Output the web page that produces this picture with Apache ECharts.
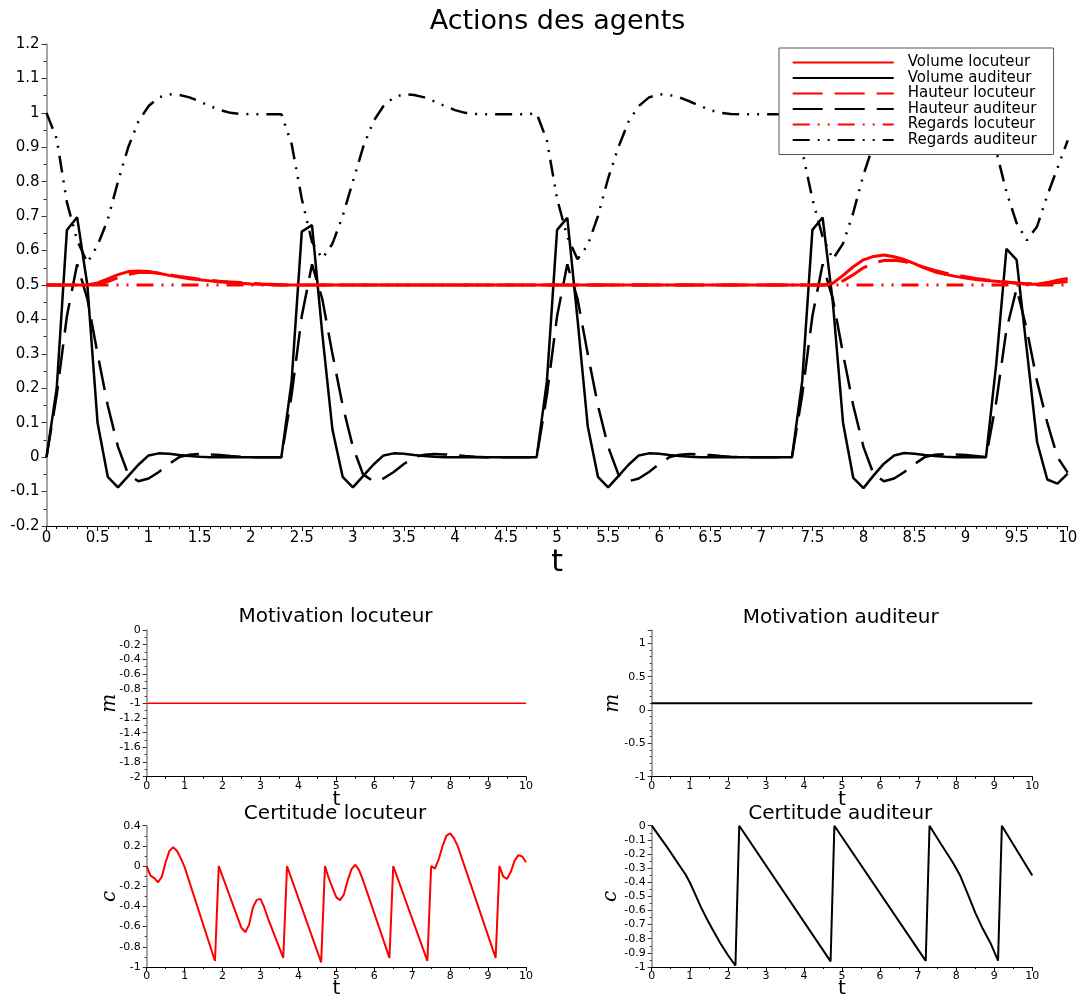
<!DOCTYPE html>
<html><head><meta charset="utf-8">
<script src="https://cdn.jsdelivr.net/npm/echarts@6/dist/echarts.min.js"></script>
<style>html,body{margin:0;padding:0;background:#fff}#c{width:1084px;height:1000px}</style>
</head><body><div id="c"></div>
<script>
// ---------- Main chart data (t step 0.1) ----------
const t = [0,0.1,0.2,0.3,0.4,0.5,0.6,0.7,0.8,0.9,1,1.1,1.2,1.3,1.4,1.5,1.6,1.7,1.8,1.9,
2,2.1,2.2,2.3,2.4,2.5,2.6,2.7,2.8,2.9,3,3.1,3.2,3.3,3.4,3.5,3.6,3.7,3.8,3.9,
4,4.1,4.2,4.3,4.4,4.5,4.6,4.7,4.8,4.9,5,5.1,5.2,5.3,5.4,5.5,5.6,5.7,5.8,5.9,
6,6.1,6.2,6.3,6.4,6.5,6.6,6.7,6.8,6.9,7,7.1,7.2,7.3,7.4,7.5,7.6,7.7,7.8,7.9,
8,8.1,8.2,8.3,8.4,8.5,8.6,8.7,8.8,8.9,9,9.1,9.2,9.3,9.4,9.5,9.6,9.7,9.8,9.9,10];

const volumeAuditeur = [
0,0.2,0.66,0.697,0.5,0.1,-0.057,-0.088,-0.055,-0.022,0.005,0.011,0.01,0.006,0.003,0.001,0,0,0,0,0,0,0,
0,0.22,0.655,0.674,0.36,0.08,-0.057,-0.088,-0.055,-0.022,0.005,0.011,0.01,0.006,0.003,0.001,0,0,0,0,0,0,0,0,0,
0,0.22,0.66,0.695,0.4,0.09,-0.057,-0.088,-0.055,-0.022,0.005,0.011,0.01,0.006,0.003,0.001,0,0,0,0,0,0,0,0,0,
0,0.22,0.66,0.696,0.45,0.1,-0.06,-0.09,-0.053,-0.019,0.005,0.012,0.01,0.006,0.003,0.001,0,0,0,
0,0.27,0.605,0.573,0.31,0.044,-0.065,-0.077,-0.048];

const hauteurAuditeur = [
0,0.18,0.41,0.56,0.46,0.3,0.15,0.03,-0.05,-0.07,-0.062,-0.043,-0.02,0,0.007,0.009,0.008,0.006,0.003,0.001,0,0,0,
0,0.18,0.41,0.56,0.46,0.3,0.15,0.03,-0.05,-0.07,-0.062,-0.043,-0.02,0,0.007,0.009,0.008,0.006,0.003,0.001,0,0,0,0,0,
0,0.18,0.41,0.56,0.46,0.3,0.15,0.03,-0.05,-0.07,-0.062,-0.043,-0.02,0,0.007,0.009,0.008,0.006,0.003,0.001,0,0,0,0,0,
0,0.18,0.41,0.56,0.46,0.3,0.15,0.03,-0.05,-0.07,-0.062,-0.043,-0.02,0,0.007,0.009,0.008,0.006,0.003,
0,0.16,0.37,0.49,0.37,0.22,0.1,0,-0.045];

const regardsAuditeur = [
1,0.925,0.74,0.63,0.565,0.615,0.69,0.8,0.9,0.975,1.02,1.045,1.054,1.052,1.045,1.033,1.02,1.008,1,0.997,0.996,0.996,0.996,
0.996,0.91,0.75,0.625,0.577,0.62,0.7,0.8,0.9,0.975,1.02,1.045,1.054,1.052,1.045,1.033,1.02,1.008,1,0.997,0.996,0.996,0.996,0.996,0.996,
0.998,0.92,0.75,0.64,0.575,0.616,0.7,0.81,0.9,0.975,1.02,1.045,1.054,1.052,1.045,1.033,1.02,1.008,1,0.997,0.996,0.996,0.996,0.996,0.996,
0.998,0.89,0.75,0.64,0.575,0.62,0.71,0.82,0.91,0.98,1.025,1.047,1.054,1.052,1.045,1.033,1.02,1.008,1,
0.997,0.89,0.77,0.68,0.63,0.67,0.76,0.84,0.92];

const volumeLocuteur = [
0.5,0.5,0.5,0.5,0.5,
0.506,0.518,0.53,0.539,0.541,0.539,0.534,0.528,0.523,0.518,0.515,0.512,0.509,0.507,0.505,0.503,0.502,0.501,
0.5,0.5,0.5,0.5,0.5,0.5,0.5,0.5,0.5,0.5,
0.5,0.5,0.5,0.5,0.5,0.5,0.5,0.5,0.5,0.5,
0.5,0.5,0.5,0.5,0.5,0.5,0.5,0.5,0.5,0.5,
0.5,0.5,0.5,0.5,0.5,0.5,0.5,0.5,0.5,0.5,
0.5,0.5,0.5,0.5,0.5,0.5,0.5,0.5,0.5,0.5,
0.5,0.5,0.5,0.5,
0.505,0.528,0.553,0.573,0.583,0.587,0.582,0.574,0.562,0.549,0.538,0.531,0.525,0.52,0.516,0.513,0.511,0.508,0.505,0.502,0.502,0.507,0.514,0.519];

const hauteurLocuteur = [
0.5,0.5,0.5,0.5,0.5,
0.502,0.51,0.521,0.531,0.536,0.537,0.534,0.53,0.525,0.521,0.517,0.514,0.511,0.509,0.507,0.505,0.503,0.502,0.501,
0.5,0.5,0.5,0.5,0.5,0.5,0.5,0.5,0.5,0.5,
0.5,0.5,0.5,0.5,0.5,0.5,0.5,0.5,0.5,0.5,
0.5,0.5,0.5,0.5,0.5,0.5,0.5,0.5,0.5,0.5,
0.5,0.5,0.5,0.5,0.5,0.5,0.5,0.5,0.5,0.5,
0.5,0.5,0.5,0.5,0.5,0.5,0.5,0.5,0.5,0.5,
0.5,0.5,0.5,
0.501,0.512,0.53,0.55,0.564,0.571,0.572,0.568,0.56,0.551,0.542,0.535,0.529,0.524,0.519,0.515,0.512,0.509,0.506,0.504,0.503,0.504,0.507,0.51];

const tRegardsLocuteur = [0, 10];
const regardsLocuteur = [0.5, 0.5];

// ---------- Small charts ----------
const tMotivation = [0, 10];
const motivationLocuteur = [-1, -1];
const motivationAuditeur = [0.1, 0.1];

const tCertLoc = [0,0.1,0.2,0.3,0.4,0.5,0.6,0.7,0.8,0.9,1,1.8,1.9,2.5,2.6,2.7,2.8,2.9,3,3.1,3.2,3.6,3.7,4.6,4.7,
4.8,4.9,5,5.1,5.2,5.3,5.4,5.5,5.6,5.7,6.4,6.5,7.4,7.5,7.6,7.7,7.8,7.9,8,8.1,8.2,9.2,9.3,9.4,9.5,9.6,9.7,9.8,9.9,10];
const certitudeLocuteur = [0,-0.095,-0.12,-0.16,-0.105,0.04,0.15,0.188,0.15,0.076,-0.01,-0.94,0,-0.614,-0.655,-0.58,-0.41,-0.335,-0.325,-0.41,-0.52,-0.91,0,-0.955,0,
-0.12,-0.216,-0.31,-0.337,-0.28,-0.14,-0.03,0.013,-0.04,-0.137,-0.91,0,-0.94,0,-0.025,0.07,0.197,0.3,0.325,0.277,0.197,-0.91,0,-0.105,-0.127,-0.057,0.054,0.108,0.095,0.038];

const tCertAud = [0,0.4,0.8,0.9,1,1.1,1.2,1.3,1.45,1.6,1.8,2,2.2,2.3,4.7,4.8,7.2,7.3,7.6,7.9,8.1,8.3,8.5,8.7,8.9,9.1,9.2,10];
const certitudeAuditeur = [0,-0.15,-0.31,-0.35,-0.4,-0.46,-0.52,-0.58,-0.66,-0.735,-0.83,-0.915,-0.99,0,-0.96,0,-0.957,0,-0.13,-0.255,-0.35,-0.48,-0.615,-0.73,-0.83,-0.955,0,-0.352];

// ---------- Build ----------
const pairs = (xs, ys) => xs.map((x, i) => [x, ys[i]]);
const FONT = 'DejaVu Sans';
const DASH = [30, 12];
const DDOT = [17, 8, 2, 8, 2, 8];

function xAxis(gi, o) {
  return Object.assign({
    type: 'value', gridIndex: gi, min: 0, max: 10, interval: 1,
    name: 't', nameLocation: 'middle', nameGap: 13, nameMoveOverlap: false,
    nameTextStyle: { fontSize: 20, fontFamily: FONT, color: '#000' },
    axisLine: { show: true, onZero: false, lineStyle: { color: '#000', width: 1.2 } },
    axisTick: { show: true, length: 4, lineStyle: { color: '#000' } },
    minorTick: { show: true, splitNumber: 2, length: 2, lineStyle: { color: '#000' } },
    axisLabel: { fontSize: 11, fontFamily: FONT, color: '#000', margin: 4 },
    splitLine: { show: false }, minorSplitLine: { show: false }
  }, o);
}
function yAxis(gi, o) {
  return Object.assign({
    type: 'value', gridIndex: gi,
    nameLocation: 'middle', nameGap: 27, nameMoveOverlap: false,
    nameTextStyle: { fontSize: 20, fontFamily: 'DejaVu Serif', fontStyle: 'italic', color: '#000' },
    axisLine: { show: true, onZero: false, lineStyle: { color: '#888', width: 1.5 } },
    axisTick: { show: true, length: 4, lineStyle: { color: '#333' } },
    minorTick: { show: true, splitNumber: 2, length: 2, lineStyle: { color: '#333' } },
    axisLabel: { fontSize: 11, fontFamily: FONT, color: '#000', margin: 6 },
    splitLine: { show: false }, minorSplitLine: { show: false }
  }, o);
}
function line(name, xi, data, color, width, type, z) {
  return {
    name, type: 'line', xAxisIndex: xi, yAxisIndex: xi, data,
    showSymbol: false, symbol: 'none', animation: false, z: z || 2,
    lineStyle: { color, width, type: type || 'solid', cap: 'butt' },
    itemStyle: { color }
  };
}
const titleStyle = (fs) => ({ fontSize: fs, fontFamily: FONT, fontWeight: 'normal', color: '#000' });

const option = {
  animation: false,
  backgroundColor: '#fff',
  title: [
    { text: 'Actions des agents', left: 557.5, top: 8, textAlign: 'center', padding: 0, textStyle: titleStyle(27) },
    { text: 'Motivation locuteur', left: 335.5, top: 607, textAlign: 'center', padding: 0, textStyle: titleStyle(20) },
    { text: 'Motivation auditeur', left: 840.7, top: 608, textAlign: 'center', padding: 0, textStyle: titleStyle(20) },
    { text: 'Certitude locuteur', left: 335, top: 804, textAlign: 'center', padding: 0, textStyle: titleStyle(20) },
    { text: 'Certitude auditeur', left: 840.3, top: 804, textAlign: 'center', padding: 0, textStyle: titleStyle(20) }
  ],
  legend: {
    data: ['Volume locuteur', 'Volume auditeur', 'Hauteur locuteur', 'Hauteur auditeur', 'Regards locuteur', 'Regards auditeur'],
    orient: 'vertical', left: 779, top: 48,
    itemWidth: 101, itemHeight: 14, itemGap: 0.5,
    padding: [7, 17, 7, 12.7],
    backgroundColor: '#fff', borderColor: '#555', borderWidth: 1, borderRadius: 0,
    itemStyle: { opacity: 0, borderWidth: 0 },
    textStyle: { fontSize: 15, fontFamily: FONT, color: '#000', lineHeight: 15, padding: [0, 0, 0, 9] },
    z: 10
  },
  grid: [
    { left: 46.5, top: 44, width: 1021.2, height: 482 },
    { left: 146.7, top: 630, width: 379.3, height: 146.7 },
    { left: 651.7, top: 630, width: 380.6, height: 146.7 },
    { left: 146.7, top: 825.7, width: 379.3, height: 146.6 },
    { left: 651.7, top: 825.7, width: 380.6, height: 146.6 }
  ],
  xAxis: [
    xAxis(0, {
      interval: 0.5, nameGap: 22,
      nameTextStyle: { fontSize: 30, fontFamily: FONT, color: '#000' },
      axisTick: { show: true, length: 5, lineStyle: { color: '#000' } },
      minorTick: { show: true, splitNumber: 5, length: 3, lineStyle: { color: '#000' } },
      axisLabel: { fontSize: 15, fontFamily: FONT, color: '#000', margin: 5 }
    }),
    xAxis(1), xAxis(2), xAxis(3, { nameGap: 12 }), xAxis(4, { nameGap: 12 })
  ],
  yAxis: [
    yAxis(0, {
      min: -0.2, max: 1.2, interval: 0.1,
      axisTick: { show: true, length: 5, lineStyle: { color: '#333' } },
      minorTick: { show: true, splitNumber: 2, length: 3, lineStyle: { color: '#333' } },
      axisLabel: { fontSize: 15, fontFamily: FONT, color: '#000', margin: 7 }
    }),
    yAxis(1, { min: -2, max: 0, interval: 0.2, name: 'm' }),
    yAxis(2, { min: -1, max: 1.2, interval: 0.5, name: 'm', nameGap: 29,
      axisLabel: { fontSize: 11, fontFamily: FONT, color: '#000', margin: 6, showMaxLabel: false },
      minorTick: { show: true, splitNumber: 5, length: 2, lineStyle: { color: '#333' } } }),
    yAxis(3, { min: -1, max: 0.4, interval: 0.2, name: 'c' }),
    yAxis(4, { min: -1, max: 0, interval: 0.1, name: 'c', nameGap: 31 })
  ],
  series: [
    line('Volume auditeur', 0, pairs(t, volumeAuditeur), '#000', 2.5, 'solid', 2),
    line('Hauteur auditeur', 0, pairs(t, hauteurAuditeur), '#000', 2.5, DASH, 2),
    line('Regards auditeur', 0, pairs(t, regardsAuditeur), '#000', 2.5, DDOT, 2),
    line('Regards locuteur', 0, pairs(tRegardsLocuteur, regardsLocuteur), '#ff0000', 3, DDOT, 3),
    line('Hauteur locuteur', 0, pairs(t, hauteurLocuteur), '#ff0000', 3, DASH, 3),
    line('Volume locuteur', 0, pairs(t, volumeLocuteur), '#ff0000', 3, 'solid', 3),
    line('Motivation locuteur', 1, pairs(tMotivation, motivationLocuteur), '#ff0000', 1.5),
    line('Motivation auditeur', 2, pairs(tMotivation, motivationAuditeur), '#000', 2),
    line('Certitude locuteur', 3, pairs(tCertLoc, certitudeLocuteur), '#ff0000', 2),
    line('Certitude auditeur', 4, pairs(tCertAud, certitudeAuditeur), '#000', 2)
  ]
};
const chart = echarts.init(document.getElementById('c'), null, { renderer: 'canvas' });
chart.setOption(option);
</script>
</body></html>
